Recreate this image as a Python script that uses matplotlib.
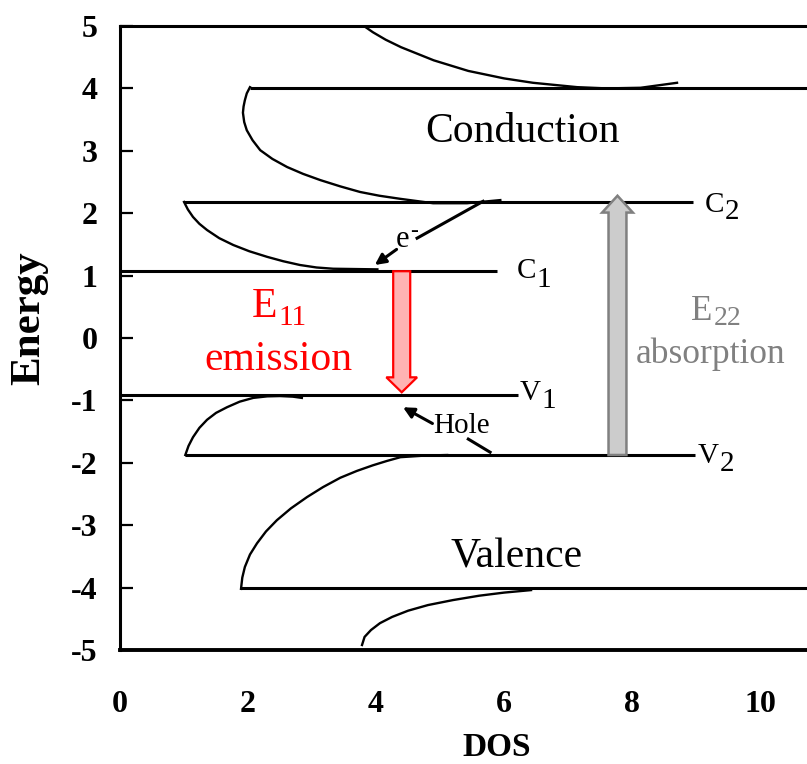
import matplotlib
matplotlib.use("Agg")
import matplotlib.pyplot as plt
from matplotlib.patches import FancyArrow

plt.rcParams["font.family"] = ["Liberation Serif", "DejaVu Serif"]
plt.rcParams["axes.unicode_minus"] = False

# axis ranges
XMAX = 10.73
YMIN, YMAX = -5, 5
xticks = [0, 2, 4, 6, 8, 10]
yticks = [5, 4, 3, 2, 1, 0, -1, -2, -3, -4, -5]

# band edges (energy) and where each horizontal edge starts / stops on the DOS axis
E_C3, E_C2, E_C1 = 4.0, 2.18, 1.07
E_V1, E_V2, E_V3 = -0.91, -1.875, -4.0
edges = [
    # (energy, x start, x end)
    (E_C3, 2.03, XMAX),
    (E_C2, 1.0, 8.95),
    (E_C1, 0.0, 5.89),
    (E_V1, 0.0, 6.22),
    (E_V2, 1.02, 8.98),
    (E_V3, 1.89, XMAX),
]

# DOS curves between the singularities
top_x = [3.81, 3.95, 4.15, 4.39, 4.9, 5.44, 6.0, 6.45, 7.14, 7.6, 8.13, 8.70]
top_y = [5.0, 4.9, 4.78, 4.66, 4.45, 4.28, 4.16, 4.09, 4.02, 4.0, 4.01, 4.09]

c2_x = [2.03, 1.98, 1.95, 1.93, 1.92, 1.94, 1.98, 2.07, 2.19, 2.38, 2.61,
        2.86, 3.13, 3.44, 3.75, 4.05, 4.38, 4.89, 5.42, 5.94]
c2_y = [4.02, 3.92, 3.81, 3.71, 3.61, 3.46, 3.33, 3.17, 3.01, 2.87, 2.74,
        2.63, 2.53, 2.43, 2.34, 2.28, 2.23, 2.16, 2.16, 2.21]

c1_x = [1.0, 1.06, 1.14, 1.24, 1.36, 1.55, 1.77, 2.02, 2.30, 2.55, 2.81,
        3.07, 3.33, 4.02]
c1_y = [2.18, 2.06, 1.94, 1.83, 1.73, 1.60, 1.49, 1.39, 1.30, 1.23, 1.17,
        1.13, 1.11, 1.10]

v1_x = [1.02, 1.07, 1.14, 1.24, 1.36, 1.5, 1.67, 1.87, 2.08, 2.3, 2.50,
        2.7, 2.84]
v1_y = [-1.875, -1.73, -1.59, -1.44, -1.31, -1.2, -1.11, -1.02, -0.96,
        -0.935, -0.93, -0.94, -0.96]

v2_x = [1.89, 1.91, 1.95, 2.03, 2.14, 2.28, 2.45, 2.67, 2.92, 3.17, 3.44,
        3.70, 3.95, 4.17, 4.38, 4.75, 5.11]
v2_y = [-4.02, -3.84, -3.67, -3.47, -3.29, -3.1, -2.92, -2.73, -2.55,
        -2.39, -2.24, -2.13, -2.04, -1.97, -1.91, -1.885, -1.875]

bot_x = [3.78, 3.82, 3.92, 4.06, 4.25, 4.5, 4.81, 5.2, 5.61, 6.0, 6.42]
bot_y = [-4.92, -4.79, -4.68, -4.57, -4.47, -4.37, -4.28, -4.2, -4.13,
         -4.08, -4.04]

curves = [(top_x, top_y), (c2_x, c2_y), (c1_x, c1_y),
          (v1_x, v1_y), (v2_x, v2_y), (bot_x, bot_y)]

RED = "#ff0000"
GREY = "#808080"

fig = plt.figure(figsize=(8.07, 7.64), dpi=100)
ax = fig.add_axes([120 / 807, 1 - 650 / 764, 1 - 120 / 807, 624 / 764])

for e, x0, x1 in edges:
    ax.plot([x0, x1], [e, e], color="k", lw=2.2, solid_capstyle="butt")
for xs, ys in curves:
    ax.plot(xs, ys, color="k", lw=1.7, solid_joinstyle="round")

# optical transitions
ax.add_patch(FancyArrow(4.40, E_C1, 0, -0.87 - E_C1, width=0.266,
                        head_width=0.48, head_length=0.24,
                        length_includes_head=True,
                        fc="#ffb3b3", ec=RED, lw=1.6, zorder=3))
ax.add_patch(FancyArrow(7.77, E_V2, 0, 2.28 - E_V2, width=0.28,
                        head_width=0.48, head_length=0.27,
                        length_includes_head=True,
                        fc="#cccccc", ec=GREY, lw=1.8, zorder=3))

# electron relaxing towards C1
ax.plot([5.67, 4.64], [2.19, 1.60], color="k", lw=2.2)
ax.annotate("", xy=(3.98, 1.17), xytext=(4.32, 1.42),
            arrowprops=dict(arrowstyle="-|>", color="k", lw=2.2,
                            mutation_scale=16, shrinkA=0, shrinkB=0))
ax.text(4.30, 1.46, "e", fontsize=22)
ax.annotate("-", (4.30, 1.46), xytext=(10.5, 7), textcoords="offset points",
            fontsize=17)

# hole relaxing towards V1
ax.annotate("", xy=(4.42, -1.11), xytext=(4.88, -1.37),
            arrowprops=dict(arrowstyle="-|>", color="k", lw=2.2,
                            mutation_scale=16, shrinkA=0, shrinkB=0))
ax.plot([5.44, 5.78], [-1.62, -1.83], color="k", lw=2.2)
ax.text(4.89, -1.52, "Hole", fontsize=21)


def sub_label(x, y, main, sub, size, subsize, dx, dy, **kw):
    ax.text(x, y, main, fontsize=size, ha="left", va="baseline", **kw)
    ax.annotate(sub, (x, y), xytext=(dx, dy), textcoords="offset points",
                fontsize=subsize, ha="left", va="baseline", **kw)


sub_label(6.20, 0.96, "C", "1", 21, 21, 14.0, -6.5)
sub_label(9.14, 2.02, "C", "2", 21, 21, 14.0, -5.0)
sub_label(6.25, -0.99, "V", "1", 21, 21, 15.0, -6.0)
sub_label(9.02, -2.00, "V", "2", 21, 21, 16.0, -6.0)

ax.text(6.28, 3.14, "Conduction", fontsize=30, ha="center", va="baseline")
ax.text(6.20, -3.67, "Valence", fontsize=30, ha="center", va="baseline")

sub_label(2.06, 0.34, "E", "11", 30, 21, 19.0, -6.0, color=RED)
ax.text(2.47, -0.51, "emission", fontsize=30, color=RED,
        ha="center", va="baseline")

sub_label(8.92, 0.29, "E", "22", 25, 20, 16.0, -4.0, color=GREY)
ax.text(9.22, -0.40, "absorption", fontsize=25.5, color=GREY,
        ha="center", va="baseline")

ax.set_xlim(0, XMAX)
ax.set_ylim(YMIN, YMAX)
ax.set_xticks(xticks)
ax.set_yticks(yticks)
ax.set_xticklabels([str(v) for v in xticks], fontsize=23, fontweight="bold")
ax.set_yticklabels([str(v) for v in yticks], fontsize=23, fontweight="bold")
ax.tick_params(axis="x", length=0, pad=29)
ax.tick_params(axis="y", direction="in", length=9.5, width=1.6, pad=16)

ax.spines["right"].set_visible(False)
ax.spines["left"].set_linewidth(2.2)
ax.spines["top"].set_linewidth(2.2)
ax.spines["bottom"].set_linewidth(2.8)

ax.set_xlabel("DOS", fontsize=24, fontweight="bold", va="center")
ax.xaxis.set_label_coords((497 - 120) / 687, (650 - 748) / 624)
ax.set_ylabel("Energy", fontsize=31, fontweight="bold", va="center")
ax.yaxis.set_label_coords((29 - 120) / 687, (650 - 318) / 624)

fig.savefig("out.png", dpi=100)
